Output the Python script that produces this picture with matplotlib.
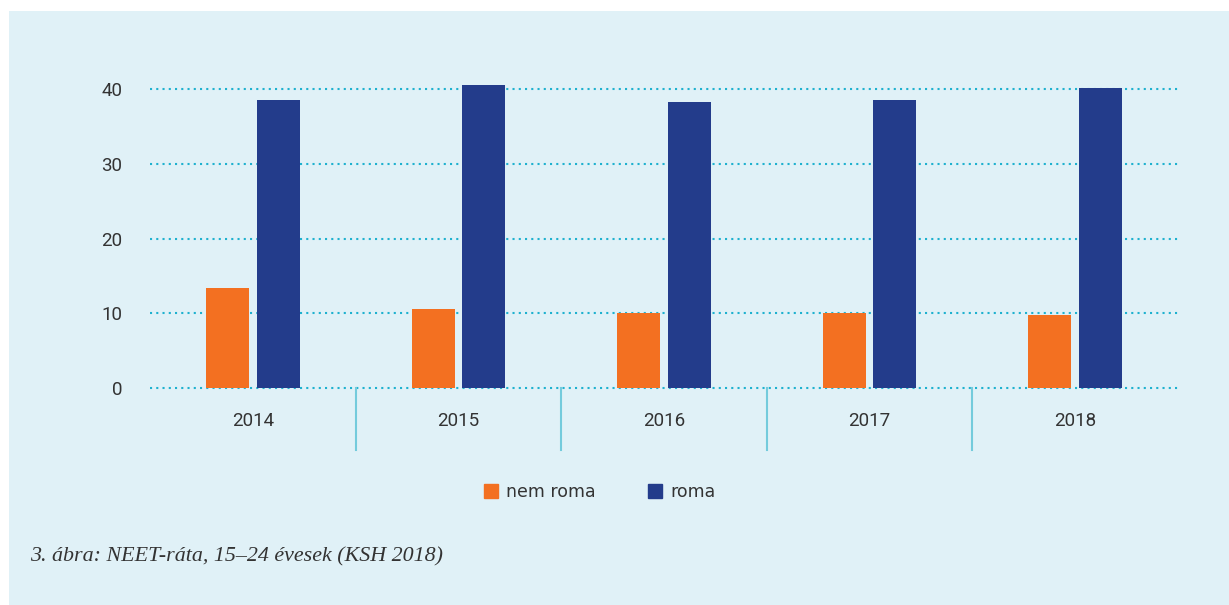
import matplotlib
matplotlib.use("Agg")
import matplotlib.pyplot as plt
import numpy as np
from matplotlib.patches import Rectangle, Patch

# ===============================
# DATA
# ===============================
years = ["2014", "2015", "2016", "2017", "2018"]
nem_roma = [13.4, 10.6, 10.0, 10.0, 9.8]
roma = [38.5, 40.5, 38.3, 38.5, 40.1]
y_ticks = [0, 10, 20, 30, 40]

# ===============================
# COLOURS
# ===============================
bg = "#e0f1f7"
orange = "#f37021"
navy = "#233c8b"
grid_col = "#1eb1cf"
sep_col = "#74cbdc"
text_col = "#333333"

W, H = 1229, 605
fig = plt.figure(figsize=(W / 100, H / 100), dpi=100, facecolor="white")

# light blue panel (behind the axes)
fig.patches.append(Rectangle((9 / W, 0), (W - 9) / W, (H - 11) / H,
                             transform=fig.transFigure, facecolor=bg,
                             edgecolor="none", zorder=-10))

ymax = 42
ax = fig.add_axes([150 / W, (H - 388) / H, 1028 / W, ymax * 7.475 / H])
ax.set_facecolor("none")
ax.set_zorder(1)

x = np.arange(len(years))
w = 0.21
ax.bar(x - 0.123, nem_roma, width=w, color=orange, zorder=3)
ax.bar(x + 0.123, roma, width=w, color=navy, zorder=3)

ax.set_xlim(-0.5, len(years) - 0.5)
ax.set_ylim(0, ymax)
ax.set_yticks(y_ticks)
ax.set_xticks(x)
ax.set_xticklabels(years)

for t in y_ticks:
    ax.axhline(t, color=grid_col, lw=1.5, linestyle=(0, (1, 2)), zorder=1,
               clip_on=False)

# separators between years, below the axis
for b in x[:-1] + 0.5:
    ax.plot([b, b], [0, -62 / (ymax * 7.475)], color=sep_col, lw=1.5,
            transform=ax.get_xaxis_transform(), clip_on=False)

for s in ax.spines.values():
    s.set_visible(False)
ax.tick_params(axis="both", length=0, colors=text_col)
ax.tick_params(axis="y", pad=20)
ax.tick_params(axis="x", pad=17)
for lab in ax.get_xticklabels() + ax.get_yticklabels():
    lab.set_fontfamily("Roboto")
    lab.set_fontsize(13.5)
    lab.set_color(text_col)

handles = [Patch(color=orange, label="nem roma"), Patch(color=navy, label="roma")]
fig.legend(handles=handles, loc="center", bbox_to_anchor=(0.488, 1 - 492 / H),
           ncol=2, frameon=False, handlelength=0.8, handleheight=0.8,
           handletextpad=0.5, columnspacing=3.0,
           prop={"family": "DejaVu Sans", "size": 12.5}, labelcolor=text_col)

fig.text(30 / W, 1 - 557 / H, "3. ábra: NEET-ráta, 15–24 évesek (KSH 2018)",
         ha="left", va="center", fontsize=15.8, style="italic",
         family="Liberation Serif", color=text_col)

plt.savefig("out.png", dpi=100, facecolor="white")
